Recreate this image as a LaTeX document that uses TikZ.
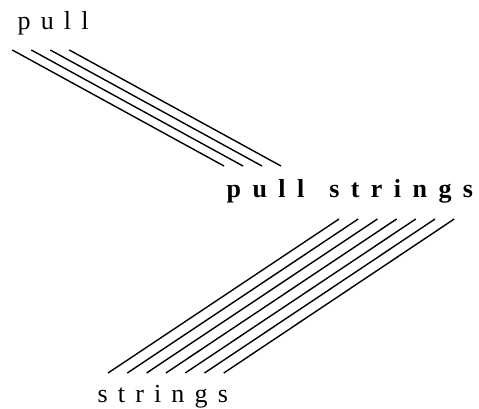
\documentclass[tikz,border=0pt]{standalone}
\usepackage{fontspec}
\setmainfont{Liberation Serif}
\newfontfamily\plainspaced[LetterSpace=39]{Liberation Serif}
\newfontfamily\boldspaced[LetterSpace=44]{Liberation Serif Bold}
\tikzset{word/.style={anchor=base west,inner sep=0pt}}
\begin{document}
\begin{tikzpicture}[x=1pt,y=-1pt,line width=1.4pt]
        \useasboundingbox (0,0) rectangle (479,408);
        %% Words
        \node[word] (pull) at (17,29)
            {\plainspaced\fontsize{26}{30}\selectfont pull};
        \node[word] (pullstrings) at (226,197)
            {\boldspaced\fontsize{26}{30}\selectfont pull\hspace{7pt} strings};
        \node[word] (strings) at (97,402)
            {\plainspaced\fontsize{26}{30}\selectfont strings};
        %% Strings of pull
        \foreach \i in {0,...,3}
            \draw (12.3+19*\i,50) -- (224+19*\i,166);
        %% Strings of strings
        \foreach \i in {0,...,6}
            \draw (108+19.3*\i,373) -- (339+19.2*\i,219);
    \end{tikzpicture}
\end{document}
